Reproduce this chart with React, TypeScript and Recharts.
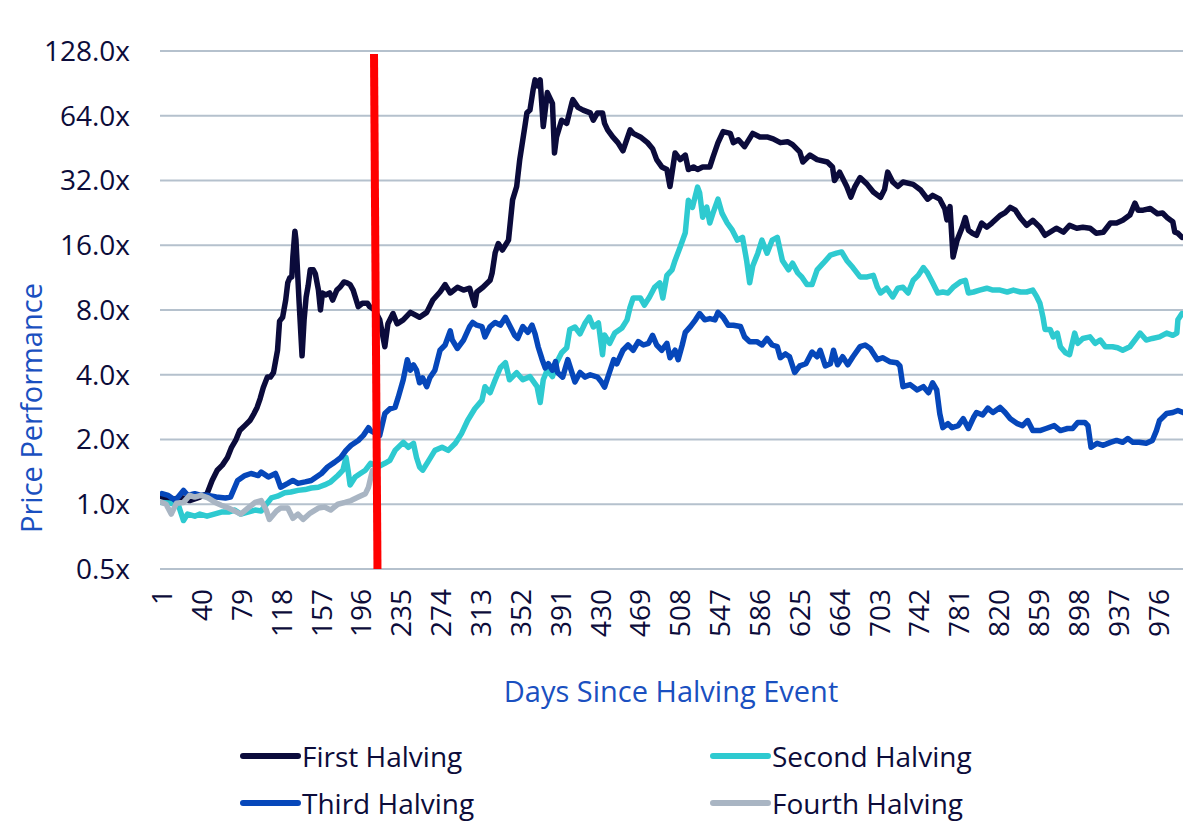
import React from "react";
import { LineChart, Line, XAxis, YAxis, CartesianGrid, ReferenceLine } from "recharts";

// ---- Data (day since halving, price multiple) ----
const firstHalving: [number, number][] = [
  [1,1.08],[9,1.04],[19,1.08],[28,1.04],[38,1.08],[45,1.12],[50,1.29],[55,1.44],[60,1.52],[65,1.65],[69,1.84],[73,1.98],[77,2.2],[82,2.32],[87,2.45],[91,2.64],[94,2.82],[97,3.1],[100,3.48],[104,3.9],[107,3.9],[110,4.09],[114,5.2],[116,7.1],[119,7.4],[122,8.9],[124,10.7],[126,11.3],[128,11.4],[129,14.1],[131,18.6],[132,17.0],[135,8.9],[138,4.9],[140,7.2],[142,9.2],[144,10.4],[146,12.3],[149,12.3],[151,11.8],[154,9.9],[156,8.0],[158,9.6],[161,9.4],[165,9.6],[168,8.9],[172,9.9],[175,10.2],[179,10.8],[182,10.7],[185,10.5],[188,9.9],[191,8.9],[193,8.3],[197,8.6],[202,8.6],[204,8.3],[209,8.0],[214,7.2],[219,5.4],[222,6.9],[227,7.7],[231,6.9],[237,7.2],[244,7.8],[253,7.4],[260,7.8],[266,8.9],[273,9.7],[278,10.5],[283,9.6],[290,10.2],[296,9.9],[302,10.1],[307,8.4],[309,9.7],[315,10.2],[322,11.0],[324,11.9],[327,14.8],[330,16.3],[334,15.2],[340,16.9],[344,26],[348,30],[351,40],[356,57],[358,66],[361,68],[364,84],[366,94],[369,88],[371,94],[374,57],[378,82],[383,73],[385,43],[387,51],[392,61],[397,59],[402,73.5],[403,76],[408,70],[413,68],[420,66],[423,61],[427,66],[432,66],[434,59],[437,55],[442,51],[447,48],[452,44],[459,55],[462,53],[469,51],[476,48],[481,45],[485,40],[490,37],[495,36],[498,30],[503,43],[508,40],[513,42],[516,36],[521,37],[525,36],[530,37],[537,37],[540,41],[545,48],[550,54],[557,53],[560,48],[565,49.5],[571,46],[579,53],[586,51],[593,51],[599,50],[606,48],[613,48.5],[618,47],[625,43.5],[628,39],[635,42],[642,40],[652,39],[657,37],[659,32],[664,35],[671,30],[675,26.8],[679,30],[684,33],[691,30.7],[697,28.3],[704,26.7],[708,29.1],[711,35],[716,31.5],[721,30],[726,31.5],[736,30.7],[743,29],[750,26.2],[755,27.3],[762,26.2],[767,23.6],[769,21],[772,24.2],[775,14.1],[779,16.9],[784,19.4],[787,21.5],[790,18.8],[794,18.2],[798,17.8],[803,20.3],[808,19.4],[813,20.3],[821,22],[826,22.7],[831,24],[836,23.3],[841,21.4],[847,19.8],[853,20.9],[860,19.4],[865,17.8],[869,18.3],[876,19.2],[883,18.4],[889,19.8],[896,19.2],[902,19.4],[909,19.2],[915,18.2],[922,18.4],[929,20.3],[935,20.3],[941,20.9],[948,22.1],[953,25.1],[956,23.3],[961,23.3],[968,23.7],[975,22.4],[980,22.6],[985,21.4],[990,20.6],[992,18.4],[995,18.2],[999,17.4]
];

const secondHalving: [number, number][] = [
  [1,1.02],[10,1.01],[17,0.99],[22,0.84],[26,0.9],[33,0.88],[38,0.9],[45,0.88],[52,0.9],[59,0.92],[66,0.92],[72,0.94],[78,0.9],[85,0.92],[92,0.94],[98,0.93],[103,1.0],[108,1.07],[114,1.09],[121,1.13],[127,1.14],[134,1.16],[141,1.17],[147,1.19],[154,1.2],[160,1.23],[166,1.27],[173,1.36],[178,1.44],[181,1.65],[183,1.44],[185,1.23],[190,1.34],[195,1.39],[200,1.44],[205,1.55],[212,1.49],[219,1.55],[224,1.6],[229,1.78],[237,1.94],[242,1.84],[247,1.92],[250,1.65],[253,1.49],[256,1.44],[261,1.57],[268,1.78],[275,1.84],[281,1.78],[288,1.92],[294,2.13],[300,2.45],[307,2.78],[314,3.04],[317,3.52],[322,3.3],[327,3.79],[332,4.31],[337,4.55],[341,3.79],[348,4.09],[354,3.79],[361,3.92],[368,3.52],[371,2.97],[374,3.79],[378,4.22],[383,3.92],[387,4.55],[392,5.06],[397,5.34],[400,6.5],[405,6.67],[410,6.2],[415,6.96],[419,7.42],[423,6.67],[428,6.96],[432,4.96],[434,6.12],[439,5.6],[444,6.25],[451,6.6],[456,7.2],[459,8.26],[462,9.1],[469,9.1],[473,8.44],[478,9.2],[483,10.2],[488,10.7],[491,9.1],[495,11.6],[500,12.3],[503,13.6],[508,15.7],[513,18.3],[516,25.9],[520,24],[525,29.8],[527,28.1],[530,21.6],[534,24.1],[537,20.3],[540,22.5],[545,26.2],[549,22.5],[554,20.3],[559,18.8],[564,16.9],[569,17.4],[573,13.6],[576,10.7],[579,12.8],[584,14.7],[588,16.9],[593,14.7],[598,16.9],[603,17.4],[608,13.6],[614,12.3],[618,13.2],[623,11.9],[627,11.4],[632,10.5],[637,10.5],[642,12.3],[648,13.2],[655,14.4],[661,14.7],[666,14.9],[671,13.6],[677,12.6],[684,11.4],[691,11.4],[697,11.6],[701,10.2],[704,9.6],[710,10.1],[716,9.2],[721,10.1],[726,10.2],[731,9.6],[736,11.0],[741,11.6],[746,12.6],[750,11.9],[755,10.7],[760,9.6],[765,9.7],[770,9.6],[775,10.2],[782,10.8],[787,11.0],[790,9.6],[795,9.7],[801,9.9],[808,10.1],[814,9.9],[821,9.9],[828,9.7],[834,9.9],[841,9.7],[847,9.7],[853,9.9],[857,9.2],[860,8.6],[863,7.4],[865,6.5],[870,6.5],[873,6.0],[877,6.25],[880,5.4],[885,5.06],[889,4.96],[894,6.25],[897,5.6],[902,5.9],[909,6.0],[914,5.6],[919,5.8],[924,5.4],[931,5.4],[936,5.34],[941,5.2],[948,5.4],[953,5.8],[958,6.25],[964,5.8],[970,5.9],[977,6.0],[984,6.25],[990,6.1],[994,6.25],[995,7.2],[999,7.7]
];

const thirdHalving: [number, number][] = [
  [1,1.12],[7,1.1],[14,1.04],[22,1.16],[26,1.1],[33,1.12],[39,1.1],[46,1.1],[54,1.08],[63,1.07],[68,1.08],[75,1.29],[82,1.36],[88,1.39],[95,1.36],[98,1.41],[105,1.34],[112,1.39],[114,1.32],[117,1.2],[124,1.25],[129,1.29],[134,1.25],[141,1.27],[147,1.29],[152,1.34],[157,1.39],[163,1.49],[170,1.57],[176,1.65],[181,1.78],[186,1.88],[193,1.98],[198,2.09],[203,2.27],[205,2.2],[209,2.15],[214,2.09],[219,2.64],[224,2.78],[229,2.82],[232,3.13],[237,3.79],[241,4.7],[244,4.2],[247,4.45],[250,4.2],[253,3.67],[256,3.87],[260,3.52],[263,3.87],[268,4.2],[273,5.2],[278,5.5],[283,6.4],[285,5.8],[290,5.3],[296,5.8],[302,6.7],[305,7.0],[309,6.8],[314,6.7],[317,6.0],[322,6.7],[327,7.0],[332,6.8],[337,7.4],[341,6.8],[346,6.1],[349,5.9],[354,6.7],[359,6.3],[363,6.8],[366,6.2],[369,5.4],[373,4.7],[376,4.3],[379,4.5],[383,4.2],[386,4.6],[388,4.1],[393,3.9],[398,4.7],[402,4.1],[405,3.7],[410,4.1],[415,3.9],[420,4.0],[427,3.9],[431,3.7],[434,3.5],[438,4.0],[443,4.7],[446,4.5],[452,5.2],[457,5.5],[462,5.2],[467,5.7],[472,5.5],[477,5.6],[481,6.1],[485,5.5],[490,5.2],[495,5.6],[498,4.8],[503,5.2],[506,4.7],[510,5.5],[513,6.3],[518,6.7],[523,7.2],[527,7.7],[532,7.2],[537,7.3],[542,7.2],[545,7.8],[550,7.4],[555,6.8],[560,6.8],[567,6.7],[571,6.0],[576,5.7],[583,5.7],[588,5.5],[593,5.9],[598,5.5],[603,5.4],[606,4.8],[611,5.0],[615,4.85],[620,4.1],[625,4.4],[631,4.5],[637,5.1],[642,4.85],[645,5.2],[650,4.4],[655,4.5],[658,5.2],[662,4.45],[667,4.85],[672,4.45],[677,4.85],[684,5.4],[689,5.5],[694,5.3],[701,4.7],[706,4.8],[713,4.6],[720,4.55],[723,4.4],[726,3.52],[733,3.6],[740,3.4],[746,3.52],[751,3.3],[755,3.67],[759,3.4],[762,2.64],[765,2.27],[770,2.37],[774,2.27],[780,2.32],[785,2.5],[790,2.25],[795,2.53],[798,2.67],[804,2.6],[809,2.8],[814,2.67],[821,2.82],[826,2.67],[831,2.5],[838,2.37],[843,2.32],[848,2.45],[853,2.2],[860,2.2],[866,2.25],[874,2.32],[880,2.2],[887,2.25],[892,2.25],[897,2.4],[904,2.4],[907,2.32],[910,1.84],[916,1.92],[922,1.88],[929,1.94],[935,1.98],[941,1.94],[946,2.02],[951,1.94],[957,1.94],[964,1.92],[970,1.98],[974,2.2],[977,2.45],[984,2.64],[990,2.67],[995,2.73],[1000,2.67]
];

const fourthHalving: [number, number][] = [
  [1,1.02],[5,1.0],[10,0.9],[15,1.01],[22,1.02],[28,1.1],[33,1.08],[39,1.1],[46,1.07],[53,1.02],[59,0.99],[66,0.96],[72,0.93],[78,0.9],[85,0.96],[92,1.02],[98,1.04],[103,0.94],[106,0.85],[113,0.93],[117,0.96],[124,0.96],[129,0.86],[134,0.9],[139,0.85],[146,0.91],[154,0.96],[160,0.97],[166,0.94],[173,1.0],[180,1.02],[186,1.04],[193,1.08],[200,1.12],[203,1.2],[205,1.32],[207,1.44]
];

// Red "today" marker (day, multiple) at both ends
const markerTop = { day: 208.4, value: 124 };
const markerBottom = { day: 211.8, value: 0.5 };

const xTicks = [1, 40, 79, 118, 157, 196, 235, 274, 313, 352, 391, 430, 469, 508, 547, 586, 625, 664, 703, 742, 781, 820, 859, 898, 937, 976];
const yTicks = [0.5, 1, 2, 4, 8, 16, 32, 64, 128];

const seriesNames = ["First Halving", "Second Halving", "Third Halving", "Fourth Halving"];
const seriesColors = ["#0b0b3b", "#2ecad0", "#0647ba", "#a9b5c3"];
const seriesData = [firstHalving, secondHalving, thirdHalving, fourthHalving];

const FONT = "'Open Sans', sans-serif";
const TEXT_COLOR = "#0c0c3a";
const TITLE_COLOR = "#1a50c0";
const TICK_SIZE = 28;
const TITLE_SIZE = 29;

const toRows = (arr: [number, number][]) => arr.map(([day, value]) => ({ day, value }));

const XTick = (props: any) => {
  const { x, y, payload } = props;
  return (
    <text
      x={x}
      y={y}
      transform={`rotate(-90, ${x}, ${y})`}
      textAnchor="end"
      dy="0.36em"
      fill={TEXT_COLOR}
      fontSize={TICK_SIZE}
      fontFamily={FONT}
    >
      {payload.value}
    </text>
  );
};

export default function App() {
  return (
    <div style={{ position: "absolute", left: 0, top: 0, width: 1200, height: 827, background: "#fff", fontFamily: FONT }}>
      <LineChart width={1200} height={827} margin={{ top: 51, right: 17, bottom: 0, left: 0 }}>
        <CartesianGrid horizontal vertical={false} stroke="#b5c1cd" strokeWidth={2} />
        <XAxis
          type="number"
          dataKey="day"
          domain={[-1, 1000]}
          ticks={xTicks}
          interval={0}
          allowDataOverflow
          axisLine={false}
          tickLine={false}
          tickSize={0}
          tickMargin={20}
          height={258}
          tick={<XTick />}
        />
        <YAxis
          type="number"
          scale="log"
          domain={[0.5, 128]}
          ticks={yTicks}
          interval={0}
          allowDataOverflow
          axisLine={false}
          tickLine={false}
          tickSize={0}
          tickMargin={30}
          width={160}
          tickFormatter={(v: number) => `${v.toFixed(1)}x`}
          tick={{ fill: TEXT_COLOR, fontSize: TICK_SIZE, fontFamily: FONT }}
        />
        {seriesData.map((d, i) => (
          <Line
            key={seriesNames[i]}
            data={toRows(d)}
            dataKey="value"
            name={seriesNames[i]}
            type="linear"
            stroke={seriesColors[i]}
            strokeWidth={5.5}
            strokeLinejoin="round"
            strokeLinecap="round"
            dot={false}
            activeDot={false}
            isAnimationActive={false}
          />
        ))}
        <ReferenceLine
          segment={[
            { x: markerTop.day, y: markerTop.value },
            { x: markerBottom.day, y: markerBottom.value },
          ]}
          stroke="#ff0000"
          strokeWidth={8}
          ifOverflow="visible"
        />
      </LineChart>
      <svg width={1200} height={827} style={{ position: "absolute", left: 0, top: 0, pointerEvents: "none" }}>
        <text
          x={30}
          y={408}
          transform="rotate(-90, 30, 408)"
          textAnchor="middle"
          dominantBaseline="central"
          fill={TITLE_COLOR}
          fontSize={TITLE_SIZE}
          fontFamily={FONT}
        >
          Price Performance
        </text>
        <text
          x={671}
          y={690}
          textAnchor="middle"
          dominantBaseline="central"
          fill={TITLE_COLOR}
          fontSize={TITLE_SIZE}
          fontFamily={FONT}
        >
          Days Since Halving Event
        </text>
        {seriesNames.map((name, i) => {
          const col = i % 2;
          const row = Math.floor(i / 2);
          const x0 = col === 0 ? 243 : 713;
          const cy = row === 0 ? 756 : 803;
          return (
            <g key={name}>
              <line x1={x0} y1={cy} x2={x0 + 55} y2={cy} stroke={seriesColors[i]} strokeWidth={6} strokeLinecap="round" />
              <text x={x0 + 59} y={cy} dominantBaseline="central" fill={TEXT_COLOR} fontSize={TICK_SIZE} fontFamily={FONT}>
                {name}
              </text>
            </g>
          );
        })}
      </svg>
    </div>
  );
}
